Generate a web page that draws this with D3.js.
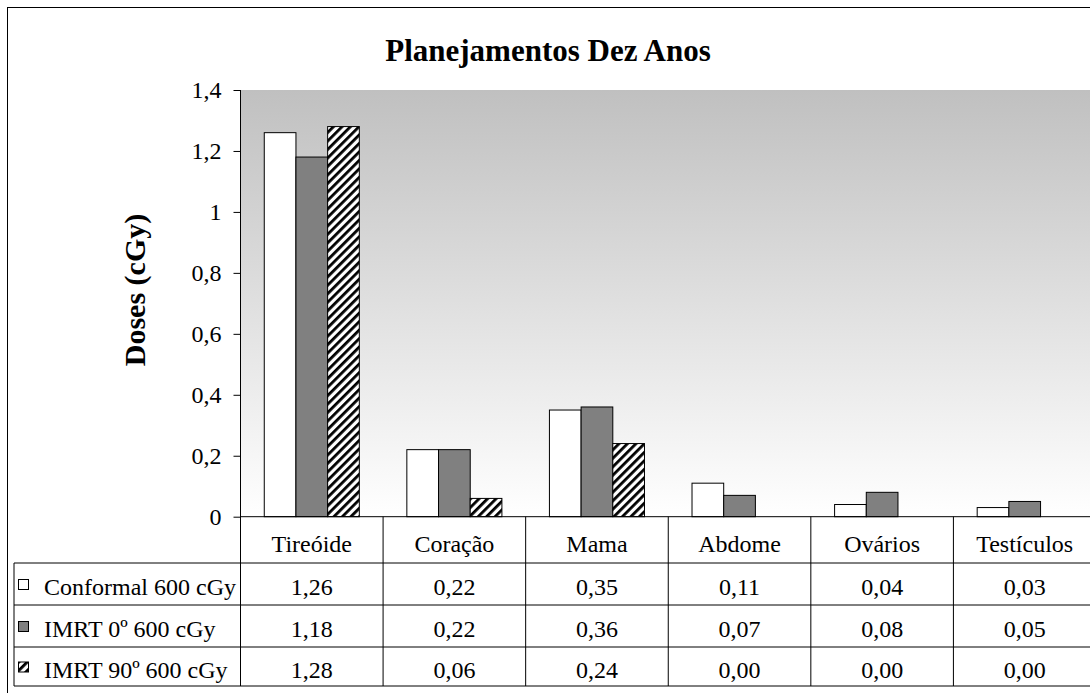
<!DOCTYPE html>
<html>
<head>
<meta charset="utf-8">
<script src="https://cdn.jsdelivr.net/npm/d3@7"></script>
<style>
  html, body { margin: 0; padding: 0; background: #fff; }
  svg { display: block; }
  text { font-family: "Liberation Serif", "Times New Roman", serif; fill: #000; }
</style>
</head>
<body>
<div id="chart"></div>
<script>
// Doses por órgão para cada planejamento
const categories = ["Tireóide", "Coração", "Mama", "Abdome", "Ovários", "Testículos"];
const seriesNames = ["Conformal 600 cGy", "IMRT 0º 600 cGy", "IMRT 90º 600 cGy"];
const conformal = [1.26, 0.22, 0.35, 0.11, 0.04, 0.03];
const imrt0 = [1.18, 0.22, 0.36, 0.07, 0.08, 0.05];
const imrt90 = [1.28, 0.06, 0.24, 0.00, 0.00, 0.00];
const yTicks = [0, 0.2, 0.4, 0.6, 0.8, 1, 1.2, 1.4];
const title = "Planejamentos Dez Anos";
const yTitle = "Doses (cGy)";

const seriesValues = [conformal, imrt0, imrt90];
const W = 1090, H = 693;
const FS = 24; // tamanho do texto da tabela e dos eixos

const svg = d3.select("#chart").append("svg")
  .attr("width", W).attr("height", H);

const defs = svg.append("defs");

// fundo da área de plotagem: cinza no topo, branco na base
const grad = defs.append("linearGradient")
  .attr("id", "plotBg").attr("x1", 0).attr("y1", 0).attr("x2", 0).attr("y2", 1);
grad.append("stop").attr("offset", "0%").attr("stop-color", "#c0c0c0");
grad.append("stop").attr("offset", "100%").attr("stop-color", "#ffffff");

// hachura diagonal larga
const hatch = defs.append("pattern")
  .attr("id", "hatch").attr("patternUnits", "userSpaceOnUse")
  .attr("width", 6).attr("height", 6)
  .attr("patternTransform", "rotate(45)");
hatch.append("rect").attr("width", 6).attr("height", 6).attr("fill", "#fff");
hatch.append("rect").attr("width", 2.8).attr("height", 6).attr("fill", "#000");

const fills = ["#ffffff", "#808080", "url(#hatch)"];

// moldura externa
svg.append("rect")
  .attr("x", 7.5).attr("y", 7.5).attr("width", W + 20).attr("height", H + 20)
  .attr("fill", "#fff").attr("stroke", "#000").attr("stroke-width", 1);

const plot = { left: 240.5, right: 1096, top: 90, bottom: 516.7 };

const x = d3.scaleBand().domain(categories).range([plot.left, plot.right]).padding(0);
const step = x.bandwidth();
const barW = step / 4.5; // espaçamento de 150%
const xs = d3.scaleBand().domain(d3.range(seriesValues.length))
  .range([barW * 0.75, step - barW * 0.75]).padding(0);

const y = d3.scaleLinear().domain([0, 1.4]).range([plot.bottom, plot.top]);

// área de plotagem
svg.append("rect")
  .attr("x", plot.left).attr("y", plot.top)
  .attr("width", plot.right - plot.left).attr("height", plot.bottom - plot.top)
  .attr("fill", "url(#plotBg)");

// título
svg.append("text")
  .attr("x", 548).attr("y", 61)
  .attr("text-anchor", "middle")
  .attr("font-size", 31).attr("font-weight", "bold")
  .text(title);

// título do eixo Y
svg.append("text")
  .attr("transform", "translate(145,290) rotate(-90)")
  .attr("text-anchor", "middle")
  .attr("font-size", 30).attr("font-weight", "bold")
  .text(yTitle);

// eixo Y
const fmt = d => d3.format(".1~f")(d).replace(".", ",");
const yAxis = d3.axisLeft(y).tickValues(yTicks).tickSize(7).tickPadding(12).tickFormat(fmt);
const gy = svg.append("g").attr("transform", `translate(${plot.left},0)`).call(yAxis);
gy.select(".domain").remove();
gy.selectAll(".tick line").attr("stroke", "#000");
gy.selectAll(".tick text").attr("font-size", FS)
  .attr("font-family", "Liberation Serif, Times New Roman, serif");

// barras
const groups = svg.append("g").selectAll("g")
  .data(seriesValues).join("g");
groups.each(function (vals, si) {
  d3.select(this).selectAll("rect")
    .data(vals.map((v, ci) => ({ v, c: categories[ci] })))
    .join("rect")
    .attr("x", d => x(d.c) + xs(si))
    .attr("y", d => y(d.v))
    .attr("width", xs.bandwidth())
    .attr("height", d => y(0) - y(d.v))
    .attr("fill", fills[si])
    .attr("stroke", d => d.v > 0 ? "#000" : "none")
    .attr("stroke-width", 1);
});

// tabela de dados
const rowLines = [516.7, 563, 605, 647, 686];
const tableLeft = 14;
const lines = svg.append("g").attr("stroke", "#000").attr("stroke-width", 1);

// eixo vertical e linha do zero
lines.append("line").attr("x1", plot.left).attr("x2", plot.left)
  .attr("y1", plot.top).attr("y2", rowLines[rowLines.length - 1]);
lines.append("line").attr("x1", plot.left).attr("x2", W)
  .attr("y1", rowLines[0]).attr("y2", rowLines[0]);
rowLines.slice(1).forEach(ry => {
  lines.append("line").attr("x1", tableLeft).attr("x2", W).attr("y1", ry).attr("y2", ry);
});
lines.append("line").attr("x1", tableLeft).attr("x2", tableLeft)
  .attr("y1", rowLines[1]).attr("y2", rowLines[rowLines.length - 1]);
categories.forEach(c => {
  lines.append("line").attr("x1", x(c) + step).attr("x2", x(c) + step)
    .attr("y1", rowLines[0]).attr("y2", rowLines[rowLines.length - 1]);
});

// cabeçalho das categorias
svg.append("g").selectAll("text").data(categories).join("text")
  .attr("x", d => x(d) + step / 2)
  .attr("y", (rowLines[0] + rowLines[1]) / 2 + 12)
  .attr("text-anchor", "middle").attr("font-size", FS)
  .text(d => d);

const valFmt = d => d3.format(".2f")(d).replace(".", ",");

seriesValues.forEach((vals, si) => {
  const cy = (rowLines[si + 1] + rowLines[si + 2]) / 2;
  // legenda
  svg.append("rect")
    .attr("x", 18.5).attr("y", cy - 4.5).attr("width", 10).attr("height", 10)
    .attr("fill", fills[si]).attr("stroke", "#000").attr("stroke-width", 1);
  svg.append("text")
    .attr("x", 44).attr("y", cy + 11)
    .attr("font-size", FS)
    .text(seriesNames[si]);
  // valores
  svg.append("g").selectAll("text").data(vals).join("text")
    .attr("x", (d, ci) => x(categories[ci]) + step / 2)
    .attr("y", cy + 11)
    .attr("text-anchor", "middle").attr("font-size", FS)
    .text(d => valFmt(d));
});
</script>
</body>
</html>
